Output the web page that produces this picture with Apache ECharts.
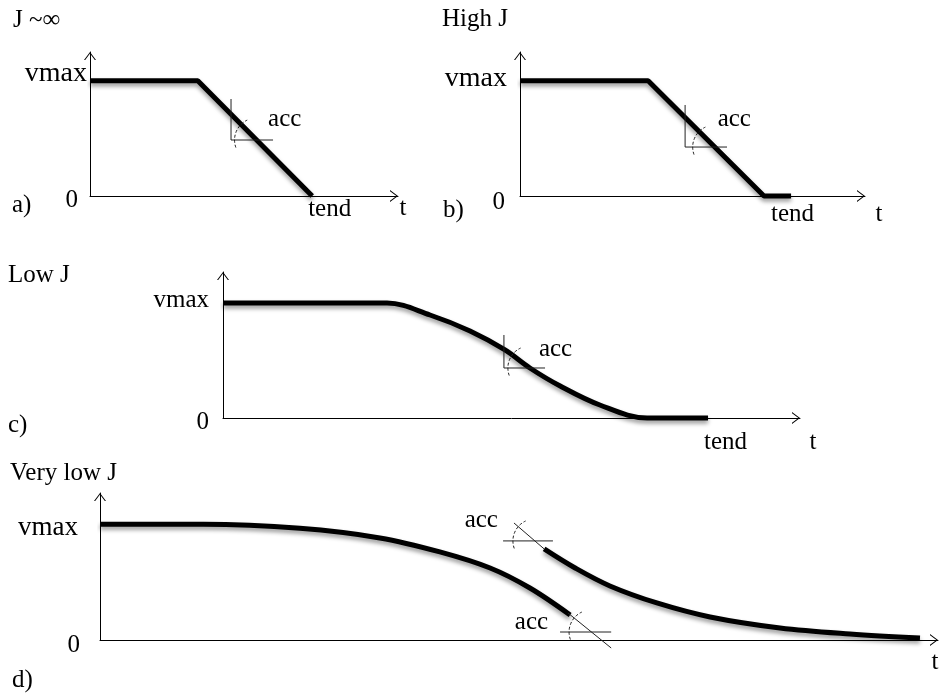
<!DOCTYPE html>
<html>
<head>
<meta charset="utf-8">
<script src="https://cdn.jsdelivr.net/npm/echarts@6/dist/echarts.min.js"></script>
<style>
  html, body { margin: 0; padding: 0; background: #fff; }
  #chart { width: 939px; height: 694px; }
</style>
</head>
<body>
<div id="chart"></div>
<script>
// Velocity profiles v(t) of a stop for decreasing jerk limits J (vmax normalised to 1).

const titles = ['J ~\u221E', 'High J', 'Low J', 'Very low J'];
const panelTags = ['a)', 'b)', 'c)', 'd)'];
const vTickLabels = ['0', 'vmax'];
const tTickLabels = ['tend', 't'];
const accLabel = 'acc';
const vmax = 1;

// Axis ranges and end-of-motion time of each panel
const tMax = [14, 14, 16, 20];
const vTop = [1.25, 1.25, 1.27, 1.27];
const tEnd = [10.1, 11.0, 13.45, null];

// a) infinite jerk: constant deceleration straight to zero
const velA = [[0, 1], [4.9, 1], [10.1, 0]];
// b) high jerk: short rounding, then resting at zero
const velB = [[0, 1], [5.2, 1], [9.9, 0], [11.0, 0]];
// c) low jerk: S-shaped deceleration
const velC = [
  [0, 1], [4.55, 1], [5.74, 0.896], [6.85, 0.757], [7.82, 0.592], [8.51, 0.435],
  [9.35, 0.278], [10.45, 0.113], [11.76, 0], [13.45, 0]
];
// d) very low jerk: the two branches that never reach the nominal deceleration
const velD1 = [
  [0, 1], [2.46, 1], [4.77, 0.965], [6.68, 0.882], [8.11, 0.761],
  [9.31, 0.622], [10.26, 0.449], [11.22, 0.216]
];
const velD2 = [
  [10.60, 0.787], [11.34, 0.622], [12.17, 0.467], [13.29, 0.32], [14.56, 0.199],
  [16.23, 0.104], [17.90, 0.052], [19.57, 0.017]
];

// Construction lines of the deceleration angle: [t1, v1, t2, v2]
const accLinesA = [[6.41, 0.842, 6.41, 0.486], [6.41, 0.486, 8.32, 0.486]];
const accLinesB = [[6.70, 0.79, 6.70, 0.425], [6.70, 0.425, 8.40, 0.425]];
const accLinesC = [[7.79, 0.722, 7.79, 0.435], [7.79, 0.435, 8.93, 0.435]];
const accLinesD = [
  [9.88, 1.011, 10.60, 0.787], [9.62, 0.856, 10.81, 0.856],
  [11.17, 0.233, 12.20, -0.069], [10.98, 0.069, 12.20, 0.069]
];
// Vertex of each angle arc: [t, v]
const accArcsA = [[7.57, 0.486]];
const accArcsB = [[7.90, 0.425]];
const accArcsC = [[8.51, 0.435]];
const accArcsD = [[10.38, 0.856], [11.72, 0.069]];

const velocities = [[velA], [velB], [velC], [velD1, velD2]];
const accLines = [accLinesA, accLinesB, accLinesC, accLinesD];
const accArcs = [accArcsA, accArcsB, accArcsC, accArcsD];

// ---- layout and styling ----
const FONT = '"Liberation Serif", "Times New Roman", serif';
const FS = 25;
const LH = 26;
const ARROW = 'path://M0,80 L60,0 L120,80 L108,80 L60,16 L12,80 Z';

const layout = [
  { grid: { left: 90, top: 52, width: 308, height: 144 }, title: [13, 7], tag: [12, 192],
    yMargin: 3, vmaxSize: 28, vmaxPad: [0, 0, 14, 0], zeroPad: [8, 9, 0, 0],
    xMargin: 0, tendPad: [0, 0, 0, 35], tGap: 5, tPad: [25, 0, 0, 0],
    accText: [[11.5, -21, 'left']], smooth: false },
  { grid: { left: 520, top: 52, width: 345, height: 144 }, title: [442, 6], tag: [443, 197],
    yMargin: 13, vmaxSize: 28, vmaxPad: [0, 0, 4, 0], zeroPad: [12, 2, 0, 0],
    xMargin: 5, tendPad: [0, 0, 0, 3], tGap: 14, tPad: [36, 0, 0, 0],
    accText: [[3, -28, 'left']], smooth: false },
  { grid: { left: 223, top: 272, width: 577, height: 146 }, title: [8, 262], tag: [8, 412],
    yMargin: 14, vmaxSize: 25, vmaxPad: [0, 0, 6, 0], zeroPad: [8, 0, 0, 0],
    xMargin: 11, tendPad: [0, 0, 0, 35], tGap: 13, tPad: [48, 0, 0, 0],
    accText: [[9, -19, 'left']], smooth: 0.35 },
  { grid: { left: 100, top: 493, width: 838, height: 147 }, title: [10, 460], tag: [12, 667],
    yMargin: 20, vmaxSize: 27, vmaxPad: [8, 2, 0, 0], zeroPad: [10, 0, 0, 0],
    xMargin: 0, tendPad: [0, 0, 0, 0], tGap: -3, tPad: [44, 0, 0, 0],
    accText: [[-37, -20, 'right'], [-43, -10, 'right']], smooth: 0.35 }
];

const textBase = { fontFamily: FONT, fontSize: FS, color: '#000', fontWeight: 'normal', lineHeight: LH };
const near = (a, b) => b != null && Math.abs(a - b) < 1e-6;

const option = {
  animation: false,
  backgroundColor: '#fff',
  title: [],
  grid: [],
  xAxis: [],
  yAxis: [],
  series: []
};

layout.forEach((L, i) => {
  option.grid.push(Object.assign({ containLabel: false, outerBoundsMode: 'none' }, L.grid));

  option.title.push({ text: titles[i], left: L.title[0], top: L.title[1], padding: 0, textStyle: textBase });
  option.title.push({ text: panelTags[i], left: L.tag[0], top: L.tag[1], padding: 0, textStyle: textBase });

  const axisLine = {
    onZero: false,
    lineStyle: { color: '#000', width: 1 },
    symbol: ['none', ARROW],
    symbolSize: [12, 8],
    symbolOffset: [0, -4]
  };

  option.xAxis.push({
    type: 'value', gridIndex: i, min: 0, max: tMax[i],
    interval: tEnd[i] != null ? tEnd[i] : tMax[i],
    axisLine: axisLine, axisTick: { show: false }, splitLine: { show: false },
    axisLabel: {
      show: tEnd[i] != null, margin: L.xMargin, showMinLabel: true, showMaxLabel: true,
      formatter: v => near(v, tEnd[i]) ? '{e|' + tTickLabels[0] + '}' : '',
      rich: { e: Object.assign({}, textBase, { padding: L.tendPad }) }
    },
    name: '{n|' + tTickLabels[1] + '}', nameLocation: 'end', nameGap: L.tGap, nameMoveOverlap: false,
    nameTextStyle: Object.assign({}, textBase, {
      align: 'center', verticalAlign: 'middle',
      rich: { n: Object.assign({}, textBase, { padding: L.tPad }) }
    })
  });

  option.yAxis.push({
    type: 'value', gridIndex: i, min: 0, max: vTop[i], interval: vmax,
    axisLine: axisLine, axisTick: { show: false }, splitLine: { show: false },
    axisLabel: {
      margin: L.yMargin, showMinLabel: true, showMaxLabel: true,
      formatter: v => near(v, vmax) ? '{v|' + vTickLabels[1] + '}' : near(v, 0) ? '{z|' + vTickLabels[0] + '}' : '',
      rich: {
        v: Object.assign({}, textBase, { fontSize: L.vmaxSize, padding: L.vmaxPad }),
        z: Object.assign({}, textBase, { padding: L.zeroPad })
      }
    }
  });

  // velocity curve(s)
  velocities[i].forEach(vel => {
    option.series.push({
      type: 'line', xAxisIndex: i, yAxisIndex: i, data: vel,
      symbol: 'none', smooth: L.smooth, clip: false, z: 3,
      lineStyle: { color: '#000', width: 5, shadowColor: 'rgba(0,0,0,0.4)', shadowBlur: 4, shadowOffsetY: 3 }
    });
  });

  // thin construction lines
  option.series.push({
    type: 'custom', xAxisIndex: i, yAxisIndex: i, data: accLines[i], clip: false, z: 4,
    renderItem: (params, api) => {
      const p1 = api.coord([api.value(0), api.value(1)]);
      const p2 = api.coord([api.value(2), api.value(3)]);
      return { type: 'line', shape: { x1: p1[0], y1: p1[1], x2: p2[0], y2: p2[1] },
               style: { stroke: '#222', lineWidth: 1, fill: 'none' } };
    }
  });

  // dashed angle arcs with their "acc" label
  option.series.push({
    type: 'custom', xAxisIndex: i, yAxisIndex: i, data: accArcs[i], clip: false, z: 5,
    renderItem: (params, api) => {
      const c = api.coord([api.value(0), api.value(1)]);
      const off = L.accText[params.dataIndex];
      return {
        type: 'group',
        children: [
          { type: 'arc',
            shape: { cx: c[0], cy: c[1], r: 22, startAngle: 160 * Math.PI / 180, endAngle: 245 * Math.PI / 180, clockwise: true },
            style: { stroke: '#222', fill: 'none', lineWidth: 1, lineDash: [3, 2] } },
          { type: 'text',
            style: { x: c[0] + off[0], y: c[1] + off[1], text: accLabel, fill: '#000',
                     fontSize: FS, fontFamily: FONT, align: off[2], verticalAlign: 'middle' } }
        ]
      };
    }
  });
});

const chart = echarts.init(document.getElementById('chart'), null, { renderer: 'canvas' });
chart.setOption(option);
</script>
</body>
</html>
